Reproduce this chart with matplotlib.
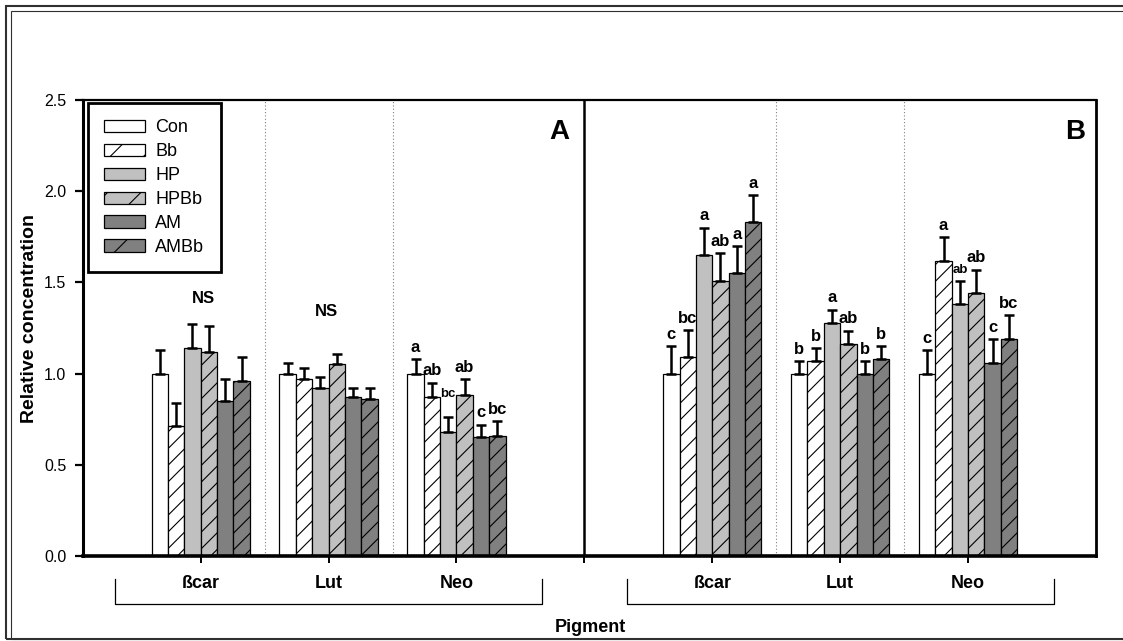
import matplotlib
matplotlib.use('Agg')
import matplotlib.pyplot as plt
from matplotlib.patches import Patch, Rectangle
import numpy as np

plt.rcParams['font.family'] = ['Liberation Sans', 'DejaVu Sans']
plt.rcParams['hatch.linewidth'] = 0.8

# Pigments and treatments
pigments = ['ßcar', 'Lut', 'Neo']
treatments = ['Con', 'Bb', 'HP', 'HPBb', 'AM', 'AMBb']

# Panel A: relative concentration (mean, upper SE), rows = pigments
a_means = [[1.00, 0.71, 1.14, 1.12, 0.85, 0.96],
           [1.00, 0.97, 0.92, 1.05, 0.87, 0.86],
           [1.00, 0.87, 0.68, 0.88, 0.65, 0.66]]
a_err = [[0.13, 0.13, 0.13, 0.14, 0.12, 0.13],
         [0.06, 0.06, 0.06, 0.06, 0.05, 0.06],
         [0.08, 0.08, 0.08, 0.09, 0.07, 0.08]]
a_letters = [None, None, ['a', 'ab', 'bc', 'ab', 'c', 'bc']]

# Panel B
b_means = [[1.00, 1.09, 1.65, 1.51, 1.55, 1.83],
           [1.00, 1.07, 1.28, 1.16, 1.00, 1.08],
           [1.00, 1.62, 1.38, 1.44, 1.06, 1.19]]
b_err = [[0.15, 0.15, 0.15, 0.15, 0.15, 0.15],
         [0.07, 0.07, 0.07, 0.075, 0.07, 0.07],
         [0.13, 0.13, 0.13, 0.13, 0.13, 0.13]]
b_letters = [['c', 'bc', 'a', 'ab', 'a', 'a'],
             ['b', 'b', 'a', 'ab', 'b', 'b'],
             ['c', 'a', 'ab', 'ab', 'c', 'bc']]

# bar styles per treatment
face = ['white', 'white', '#c0c0c0', '#c0c0c0', '#808080', '#808080']
hatch = [None, '//', None, '//', None, '//']

fig = plt.figure(figsize=(11.23, 6.41), dpi=100)
ax = fig.add_axes([83/1123, 1-556/641, 1013/1123, 456/641])

width = 0.128
panels = [(-3, a_means, a_err, a_letters), (1, b_means, b_err, b_letters)]
# letters drawn in a smaller size, and extra lift (data units)
small = {(0, 2, 2), (1, 2, 2)}
lift = {(0, 2, 2): 0.07}

for p, (start, means, errs, letters) in enumerate(panels):
    for g in range(3):
        xc = start + g
        xs = xc + (np.arange(6) - 2.5) * width
        for i in range(6):
            ax.bar(xs[i], means[g][i], width=width, color=face[i], hatch=hatch[i],
                   edgecolor='black', linewidth=0.9, zorder=2)
        ax.errorbar(xs, means[g], yerr=[np.zeros(6), errs[g]], fmt='none',
                    ecolor='black', elinewidth=1.8, capsize=3.3, capthick=1.8, zorder=3)
        if letters[g] is None:
            continue
        for i, lab in enumerate(letters[g]):
            key = (p, g, i)
            y = means[g][i] + errs[g][i] + 0.04 + lift.get(key, 0)
            ax.text(xs[i], y, lab, ha='center', va='baseline', fontweight='bold',
                    fontsize=9.5 if key in small else 12, zorder=4)

# "not significant" marks for panel A
ax.text(-3 + 0.02, 1.41, 'NS', ha='center', va='center', fontweight='bold', fontsize=12)
ax.text(-2 - 0.02, 1.34, 'NS', ha='center', va='center', fontweight='bold', fontsize=12)

# separators
for xv in [-2.5, -1.5, 1.5, 2.5]:
    ax.axvline(xv, color='#808080', ls=(0, (1, 2)), lw=0.8, zorder=1)
ax.axvline(0, color='black', lw=1.8, zorder=5)

ax.set_xlim(-3.92, 4.0)
ax.set_ylim(0, 2.5)
ax.set_yticks(np.arange(0, 2.51, 0.5))
ax.set_yticklabels([f'{v:.1f}' for v in np.arange(0, 2.51, 0.5)], fontsize=11.5)
ax.set_xticks([-3, -2, -1, 0, 1, 2, 3])
ax.set_xticklabels(pigments + [''] + pigments, fontsize=13, fontweight='bold')
ax.tick_params(axis='y', direction='out', length=6, width=1.6, pad=6)
ax.tick_params(axis='x', direction='out', length=5, width=1.4, pad=9)

ax.spines['left'].set_linewidth(2.2)
ax.spines['bottom'].set_linewidth(2.6)
ax.spines['top'].set_linewidth(1.6)
ax.spines['right'].set_linewidth(2.0)

ax.set_ylabel('Relative concentration', fontsize=14, fontweight='bold')
ax.yaxis.set_label_coords(-0.044, 0.52)

ax.text(0.47, 0.93, 'A', transform=ax.transAxes, ha='center', va='center',
        fontsize=20, fontweight='bold')
ax.text(0.979, 0.93, 'B', transform=ax.transAxes, ha='center', va='center',
        fontsize=20, fontweight='bold')

# brackets under the category labels
tr = ax.get_xaxis_transform()
for c in [-2, 2]:
    ax.plot([c - 1.67, c - 1.67, c + 1.67, c + 1.67], [-0.05, -0.105, -0.105, -0.05],
            color='black', lw=0.9, transform=tr, clip_on=False)

fig.text(590/1123, 1-628/641, 'Pigment', ha='center', va='center',
         fontsize=13, fontweight='bold')

# legend swatches use a sparser hatch
handles = [Patch(facecolor=face[i], hatch='/' if hatch[i] else None,
                 edgecolor='black', linewidth=0.9) for i in range(6)]
leg = ax.legend(handles, treatments, loc='upper left', bbox_to_anchor=(0.005, 0.993),
                borderaxespad=0, fontsize=13, handlelength=2.28, handleheight=0.67,
                labelspacing=0.38, handletextpad=0.55, borderpad=0.9, fancybox=False,
                edgecolor='black', framealpha=1)
leg.get_frame().set_linewidth(2.0)

# double frame around the figure
fig.patches.append(Rectangle((6/1123, 1-639/641), 1.2, 633/641, fill=False,
                             lw=1.5, edgecolor='#303030', transform=fig.transFigure))
fig.patches.append(Rectangle((11/1123, 1-639/641), 1.2, 628.5/641, fill=False,
                             lw=0.8, edgecolor='#303030', transform=fig.transFigure))

fig.savefig('out.png', dpi=100)
